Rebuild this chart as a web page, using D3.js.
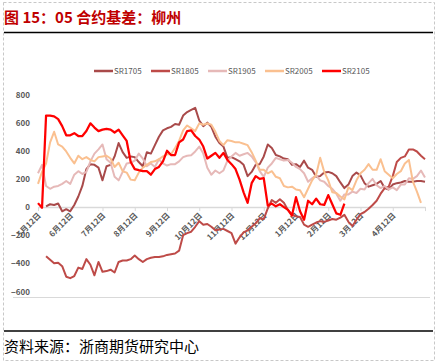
<!DOCTYPE html>
<html>
<head>
<meta charset="utf-8">
<script src="https://cdn.jsdelivr.net/npm/d3@7"></script>
<style>
  body { margin: 0; background: #fff; }
  svg { display: block; }
</style>
</head>
<body>
<svg></svg>
<script>
// month tick labels (one every 8 samples)
var tickLabels = ['5月12日', '6月12日', '7月12日', '8月12日', '9月12日', '10月12日',
                  '11月12日', '12月12日', '1月12日', '2月12日', '3月12日', '4月12日'];
var seriesNames = ['SR1705', 'SR1805', 'SR1905', 'SR2005', 'SR2105'];
var seriesColors = ['#A94A4A', '#BE4B48', '#E6B9B8', '#FAC090', '#FF0000'];

// basis values, 97 samples across the year (null = no data)
var sr1705 = [null, null, 5, 20, 15, 25, -30, -15, -30, 15, 75, 150, 270, 305, 300, 280, 190, 290, 300, 360,
  455, 390, 350, 360, 355, 320, 290, 390, 380, 440, 500, 545, 560, 570, 590, 585, 650, 675, 690, 705,
  615, 575, 600, 570, 500, 455, 430, 350, 355, 340, 325, 300, 220, 250, 300, 305, 360, 445, 420, 370,
  360, 345, 340, 300, 305, 285, 330, 280, 265, 215, 220, 245, 250, 240, 220, 175, 135, 160, 220, 245,
  225, 170, 145, 155, 165, 185, 135, 125, 160, 170, 175, 185, 180, 180, 185, 185, 180];
var sr1805 = [null, null, -350, -375, -400, -395, -420, -495, -505, -490, -430, -440, -370, -410, -485, -390, -460, -455, -445, -465,
  -390, -380, -380, -370, -345, -370, -390, -370, -360, -355, -355, -350, -340, -335, -330, -310, -200, -185, -175, -140,
  -100, -125, -120, -140, -165, -160, -155, -170, -185, -260, -215, -180, -165, -140, -115, -80, -85, -10, 50, 30,
  55, 30, -20, -55, -65, -70, -125, -140, -125, -110, -100, -105, -95, -85, -90, -75, -55, -105, -135, -90,
  -50, -35, -12, 15, 45, 95, 135, 145, 220, 320, 350, 360, 410, 410, 395, 365, 340];
var sr1905 = [240, 300, 150, 130, 145, 150, 165, 185, 165, 230, 255, 235, 250, 325, 380, 410, 445, 340, 315, 215,
  190, 250, 310, 315, 330, 380, 345, 290, 310, 285, 340, 310, 295, 305, 305, 325, 355, 365, 368, 395,
  430, 380, 280, 230, 260, 240, 260, 330, 360, 385, 365, 375, 385, 360, 320, 255, 215, 280, 310, 350,
  340, 330, 335, 315, 285, 270, 240, 180, 205, 225, 190, 180, 150, 130, 95, 45, 90, 90, 110, 100,
  130, 125, 170, 200, 155, 135, 150, 125, 140, 120, 160, 160, 205, 200, 220, 260, 210];
var sr2005 = [165, 250, 310, 460, 535, 445, 430, 395, 350, 310, 365, 340, 355, 335, 325, 355, 360, 365, 345, 285,
  315, 255, 245, 195, 190, 245, 280, 300, 320, 325, 340, 360, 375, 375, 420, 470, 545, 580, 560, 540,
  595, 585, 595, 585, 535, 470, 440, 475, 470, 460, 460, 450, 440, 390, 330, 265, 265, 240, 255, 215,
  205, 150, 140, 145, 125, 120, 70, 130, 190, 230, 350, 250, 190, 105, 100, 75, 55, 140, 120, 190,
  240, 265, 305, 265, 265, 340, 255, 230, 205, 235, 255, 310, 335, 180, 110, 30, null];
var sr2105 = [28, -5, 650, 650, 645, 625, 575, 510, 510, 525, 505, 505, 540, 595, 565, 540, 550, 555, 550, 530,
  550, 510, 470, 320, 270, 262, 255, 255, 230, 270, 285, 325, 400, 370, 370, 460, 480, 540, 545, 505,
  480, 430, 345, 365, 385, 350, 385, 335, 305, 270, 195, 105, 30, 170, 220, 200, 205, 10, 25, 5,
  20, 0, -20, -60, 70, -30, -90, 45, 20, 60, 20, 15, 85, 20, -45, -55, 25];

var yTicks = [-600, -400, -200, 0, 200, 400, 600, 800];

var allSeries = [sr1705, sr1805, sr1905, sr2005, sr2105];

var svgWidth = 438;
var svgHeight = 364;
var fontCJK = '"Noto Sans CJK SC", "Noto Sans", sans-serif';

var svg = d3.select('svg')
    .attr('width', svgWidth)
    .attr('height', svgHeight);

// dashed frame round the whole figure
svg.append('rect')
    .attr('x', 3.5).attr('y', 2.5)
    .attr('width', 431).attr('height', 358)
    .attr('fill', 'none')
    .attr('stroke', '#C8C8C8')
    .attr('stroke-dasharray', '3,2');

// title + rules
svg.append('text')
    .attr('x', 4).attr('y', 23)
    .attr('font-family', fontCJK)
    .attr('font-size', '15px')
    .attr('font-weight', 'bold')
    .attr('fill', '#C00000')
    .text('图 15：05 合约基差：柳州');

svg.append('line')
    .attr('x1', 4).attr('x2', 433).attr('y1', 32.5).attr('y2', 32.5)
    .attr('stroke', '#000').attr('stroke-width', 1.5);

svg.append('line')
    .attr('x1', 4).attr('x2', 433).attr('y1', 331).attr('y2', 331)
    .attr('stroke', '#000').attr('stroke-width', 1.5);

svg.append('text')
    .attr('x', 4).attr('y', 352)
    .attr('font-family', fontCJK)
    .attr('font-size', '15px')
    .attr('fill', '#000')
    .text('资料来源：浙商期货研究中心');

// scales
var xScale = d3.scaleLinear()
    .domain([0, sr2005.length - 1])
    .range([38, 425]);

var yScale = d3.scaleLinear()
    .domain([-600, 800])
    .range([291.5, 94.5]);

// bottom border of plot area
svg.append('line')
    .attr('x1', 13).attr('x2', 430).attr('y1', 297.5).attr('y2', 297.5)
    .attr('stroke', '#D9D9D9').attr('stroke-width', 1);

// y axis labels (no axis line)
var yAxis = d3.axisLeft(yScale)
    .tickValues(yTicks)
    .tickSize(0)
    .tickPadding(0);

var yG = svg.append('g')
    .attr('transform', 'translate(30,0)')
    .call(yAxis);
yG.select('.domain').remove();
yG.selectAll('text')
    .attr('font-family', fontCJK)
    .attr('font-size', '8px')
    .attr('font-weight', 'bold')
    .attr('fill', '#595959');

// x axis sits on zero
var xTickVals = d3.range(0, sr2005.length, 8);
var xAxis = d3.axisBottom(xScale)
    .tickValues(xTickVals)
    .tickSize(4)
    .tickSizeOuter(0)
    .tickFormat(function(d, i) { return tickLabels[i] || ''; });

var xG = svg.append('g')
    .attr('transform', 'translate(0,' + yScale(0) + ')')
    .call(xAxis);
xG.select('.domain')
    .attr('stroke', '#D9D9D9')
    .attr('stroke-width', 1.5);
xG.selectAll('.tick line')
    .attr('stroke', '#D9D9D9');
xG.selectAll('text')
    .attr('font-family', fontCJK)
    .attr('font-size', '8px')
    .attr('font-weight', 'bold')
    .attr('fill', '#595959')
    .attr('text-anchor', 'end')
    .attr('y', 0).attr('dy', 0)
    .attr('transform', 'translate(3,9) rotate(-45)');

// lines
var line = d3.line()
    .defined(function(d) { return d != null; })
    .x(function(d, i) { return xScale(i); })
    .y(function(d) { return yScale(d); });

svg.selectAll('path.series')
    .data(allSeries)
    .enter()
    .append('path')
    .attr('class', 'series')
    .attr('fill', 'none')
    .attr('stroke', function(d, i) { return seriesColors[i]; })
    .attr('stroke-width', function(d, i) { return i == 4 ? 2.25 : 2; })
    .attr('stroke-linejoin', 'round')
    .attr('d', line);

// legend
var legend = svg.selectAll('g.legend')
    .data(seriesNames)
    .enter()
    .append('g')
    .attr('class', 'legend')
    .attr('transform', function(d, i) {
        return 'translate(' + (94 + i * 57) + ',71)';
    });

legend.append('line')
    .attr('x1', 0).attr('x2', 19)
    .attr('stroke', function(d, i) { return seriesColors[i]; })
    .attr('stroke-width', 2.5);

legend.append('text')
    .attr('x', 20).attr('y', 3)
    .attr('font-family', fontCJK)
    .attr('font-size', '8px')
    .attr('fill', '#595959')
    .text(function(d) { return d; });
</script>
</body>
</html>
